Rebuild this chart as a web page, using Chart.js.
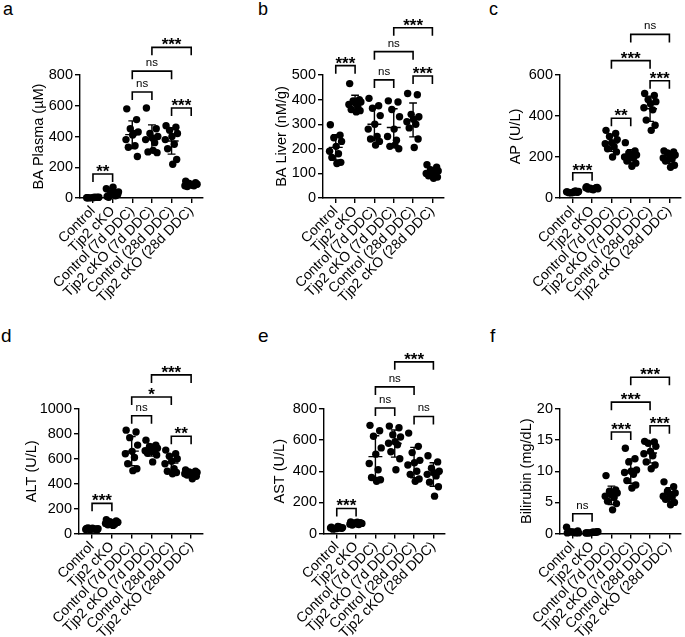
<!DOCTYPE html>
<html>
<head>
<meta charset="utf-8">
<script src="https://cdn.jsdelivr.net/npm/chart.js@4.4.1/dist/chart.umd.min.js"></script>
<style>
  body { margin: 0; background: #fff; width: 685px; height: 637px; position: relative; overflow: hidden;
         font-family: 'Liberation Sans', Arial, sans-serif; color: #000; }
  canvas { position: absolute; }
  .tag { position: absolute; line-height: 1; }
</style>
</head>
<body>
<div class="tag" style="left:3px;top:0px;font-size:18px">a</div>
<div class="tag" style="left:258px;top:0px;font-size:18px">b</div>
<div class="tag" style="left:489px;top:0px;font-size:18px">c</div>
<div class="tag" style="left:1px;top:326px;font-size:19px">d</div>
<div class="tag" style="left:258px;top:326px;font-size:19px">e</div>
<div class="tag" style="left:490px;top:326px;font-size:19px">f</div>

<canvas id="pa" width="228" height="305" style="left:0;top:0"></canvas>
<canvas id="pb" width="228" height="305" style="left:228px;top:0"></canvas>
<canvas id="pc" width="229" height="305" style="left:456px;top:0"></canvas>
<canvas id="pd" width="228" height="337" style="left:0;top:300px"></canvas>
<canvas id="pe" width="228" height="337" style="left:228px;top:300px"></canvas>
<canvas id="pf" width="229" height="337" style="left:456px;top:300px"></canvas>

<script>
// groups on the x axis
const groups = ['Control', 'Tjp2 cKO', 'Control (7d DDC)', 'Tjp2 cKO (7d DDC)', 'Control (28d DDC)', 'Tjp2 cKO (28d DDC)'];

// horizontal scatter of the dots inside a group (in group units)
const jitter = [-0.28, 0.22, -0.1, 0.3, 0.02, -0.32, 0.14, -0.2, 0.26, 0.06];

// one list per group
const baPlasma = [
  [2, 4, 1, 5, 3, 2, 6, 1, 4, 3],
  [10, 20, 30, 40, 70, 60, 15, 5, 25, 35],
  [580, 510, 450, 430, 410, 380, 340, 330, 270, 420],
  [585, 450, 420, 400, 390, 380, 360, 300, 295, 310],
  [470, 460, 440, 420, 400, 380, 350, 320, 250, 220],
  [110, 100, 95, 90, 85, 80, 80, 75, 90, 85]
];
const baLiver = [
  [298, 255, 245, 230, 210, 190, 180, 165, 145, 140],
  [465, 400, 395, 390, 385, 380, 370, 360, 355, 350],
  [405, 375, 365, 335, 300, 280, 250, 240, 230, 215],
  [395, 390, 360, 330, 280, 250, 235, 210, 200, 215],
  [425, 420, 340, 330, 320, 310, 300, 285, 240, 205],
  [135, 125, 115, 110, 105, 100, 95, 90, 85, 80]
];
const apValues = [
  [30, 28, 25, 32, 27, 30, 35, 26, 29, 31],
  [55, 50, 48, 45, 42, 50, 47, 44, 52, 40],
  [330, 315, 300, 285, 270, 265, 250, 240, 225, 200],
  [270, 230, 220, 210, 205, 200, 195, 180, 170, 155],
  [510, 500, 480, 470, 460, 440, 430, 380, 355, 330],
  [230, 225, 220, 210, 200, 195, 190, 180, 160, 150]
];
const altValues = [
  [40, 35, 30, 38, 42, 33, 36, 45, 30, 35],
  [110, 100, 95, 90, 85, 80, 75, 70, 88, 65],
  [830, 815, 770, 710, 660, 640, 610, 560, 520, 505],
  [750, 710, 700, 685, 675, 665, 655, 645, 630, 575],
  [670, 640, 620, 600, 580, 560, 520, 500, 490, 480],
  [510, 500, 495, 490, 485, 480, 475, 470, 460, 440]
];
const astValues = [
  [40, 35, 30, 38, 32, 36, 42, 28, 34, 45],
  [75, 70, 68, 65, 62, 60, 58, 55, 65, 72],
  [695, 660, 625, 550, 510, 450, 410, 360, 345, 335],
  [690, 680, 635, 620, 590, 580, 570, 525, 480, 410],
  [645, 560, 520, 470, 455, 440, 400, 380, 350, 335],
  [500, 460, 420, 400, 390, 380, 370, 330, 300, 240]
];
const bilirubin = [
  [0.1, 0.2, 0.3, 0.1, 0.2, 1.0, 0.1, 0.2, 0.4, 0.2],
  [0.1, 0.2, 0.1, 0.3, 0.2, 0.1, 0.2, 0.1, 0.3, 0.2],
  [9.3, 7.0, 6.8, 6.5, 6.2, 6.0, 5.8, 5.2, 4.8, 3.8],
  [13.7, 12.0, 11.5, 10.2, 10.0, 9.8, 9.5, 8.5, 7.8, 7.3],
  [14.8, 14.7, 14.5, 14.0, 13.2, 12.8, 12.5, 11.5, 11.0, 10.4],
  [8.3, 7.5, 6.8, 6.5, 6.3, 6.0, 5.8, 5.5, 5.0, 4.6]
];

// significance brackets: [from group, to group, height in axis units, label]
const sigA = [[0, 1, 156, '**'], [2, 3, 689, 'ns'], [4, 5, 585, '***'], [2, 4, 825, 'ns'], [3, 5, 980, '***']];
const sigB = [[0, 1, 538, '***'], [2, 3, 480, 'ns'], [4, 5, 496, '***'], [2, 4, 595, 'ns'], [3, 5, 692, '***']];
const sigC = [[0, 1, 123, '***'], [2, 3, 389, '**'], [4, 5, 572, '***'], [2, 4, 670, '***'], [3, 5, 798, 'ns']];
const sigD = [[0, 1, 242, '***'], [2, 3, 946, 'ns'], [4, 5, 781, '**'], [2, 4, 1096, '*'], [3, 5, 1274, '***']];
const sigE = [[0, 1, 161, '***'], [2, 3, 806, 'ns'], [4, 5, 752, 'ns'], [2, 4, 942, 'ns'], [3, 5, 1103, '***']];
const sigF = [[0, 1, 3.17, 'ns'], [2, 3, 16.3, '***'], [4, 5, 17.3, '***'], [2, 4, 21.1, '***'], [3, 5, 25.1, '***']];

const FONT = "'Liberation Sans', Arial, sans-serif";
Chart.defaults.font.family = FONT;
Chart.defaults.color = '#000';

function meanSd(vals) {
  const m = vals.reduce((a, b) => a + b, 0) / vals.length;
  const v = vals.reduce((a, b) => a + (b - m) * (b - m), 0) / (vals.length - 1);
  return [m, Math.sqrt(v)];
}

function drawPanel(id, p) {
  const points = [];
  p.values.forEach((vals, i) => {
    vals.forEach((v, k) => points.push({ x: i + jitter[k], y: v }));
  });

  // mean +/- SD bars and the significance brackets
  const overlay = {
    id: 'overlay',
    afterDatasetsDraw(chart) {
      const { ctx, scales: { x, y } } = chart;
      ctx.save();
      ctx.strokeStyle = '#000';
      ctx.lineWidth = 1.4;
      p.values.forEach((vals, i) => {
        const [m, sd] = meanSd(vals);
        const ym = y.getPixelForValue(m);
        const yt = y.getPixelForValue(m + sd);
        const yb = y.getPixelForValue(Math.max(m - sd, 0));
        ctx.beginPath();
        ctx.moveTo(x.getPixelForValue(i - 0.36), ym);
        ctx.lineTo(x.getPixelForValue(i + 0.36), ym);
        ctx.moveTo(x.getPixelForValue(i), yt);
        ctx.lineTo(x.getPixelForValue(i), yb);
        ctx.moveTo(x.getPixelForValue(i - 0.2), yt);
        ctx.lineTo(x.getPixelForValue(i + 0.2), yt);
        ctx.moveTo(x.getPixelForValue(i - 0.2), yb);
        ctx.lineTo(x.getPixelForValue(i + 0.2), yb);
        ctx.stroke();
      });

      ctx.lineWidth = 1.6;
      ctx.fillStyle = '#000';
      ctx.textAlign = 'center';
      p.sig.forEach(([a, b, h, label]) => {
        const x1 = x.getPixelForValue(a);
        const x2 = x.getPixelForValue(b);
        const yy = y.getPixelForValue(h);
        ctx.beginPath();
        ctx.moveTo(x1, yy + 8);
        ctx.lineTo(x1, yy);
        ctx.lineTo(x2, yy);
        ctx.lineTo(x2, yy + 8);
        ctx.stroke();
        if (label === 'ns') {
          ctx.font = '11.5px ' + FONT;
          ctx.fillText(label, (x1 + x2) / 2, yy - 5);
        } else {
          ctx.font = 'bold 17px ' + FONT;
          ctx.fillText(label, (x1 + x2) / 2, yy + 3);
        }
      });
      ctx.restore();
    }
  };

  const axisLine = { color: '#000', width: 1.4 };
  const tickGrid = { drawOnChartArea: false, drawTicks: true, tickLength: 5, color: '#000', lineWidth: 1.4 };

  new Chart(document.getElementById(id), {
    type: 'scatter',
    data: {
      datasets: [{
        data: points,
        pointRadius: 3.7,
        pointBackgroundColor: '#000',
        pointBorderWidth: 0,
        clip: false
      }]
    },
    options: {
      responsive: false,
      animation: false,
      layout: { padding: { top: p.top, left: 0, right: p.right, bottom: 0 } },
      plugins: { legend: { display: false }, tooltip: { enabled: false } },
      scales: {
        x: {
          type: 'linear',
          min: -0.66,
          max: 5.6,
          afterBuildTicks: (axis) => { axis.ticks = groups.map((g, i) => ({ value: i })); },
          afterFit: (axis) => { axis.height = p.xh; },
          ticks: {
            callback: (v) => groups[v],
            minRotation: 45,
            maxRotation: 45,
            autoSkip: false,
            padding: 0,
            font: { size: 14 }
          },
          grid: tickGrid,
          border: axisLine
        },
        y: {
          min: 0,
          max: p.max,
          afterFit: (axis) => { axis.width = p.yw; },
          ticks: { stepSize: p.step, padding: 2, font: { size: 14.5 }, callback: (v) => String(v) },
          grid: tickGrid,
          border: axisLine,
          title: { display: true, text: p.title, font: { size: 14.5 }, padding: { top: p.tpad, bottom: 0 } }
        }
      }
    },
    plugins: [overlay]
  });
}

drawPanel('pa', { values: baPlasma, sig: sigA, title: 'BA Plasma (µM)', max: 800, step: 200, top: 75, right: 25, xh: 107, yw: 80, tpad: 30 });
drawPanel('pb', { values: baLiver, sig: sigB, title: 'BA Liver (nM/g)', max: 500, step: 100, top: 75, right: 12, xh: 107, yw: 95, tpad: 45 });
drawPanel('pc', { values: apValues, sig: sigC, title: 'AP (U/L)', max: 600, step: 200, top: 75, right: 3, xh: 107, yw: 104, tpad: 51 });
drawPanel('pd', { values: altValues, sig: sigD, title: 'ALT (U/L)', max: 1000, step: 200, top: 109, right: 25, xh: 103.5, yw: 79, tpad: 23 });
drawPanel('pe', { values: astValues, sig: sigE, title: 'AST (U/L)', max: 800, step: 200, top: 109, right: 11, xh: 103.5, yw: 96, tpad: 43 });
drawPanel('pf', { values: bilirubin, sig: sigF, title: 'Bilirubin (mg/dL)', max: 20, step: 5, top: 109, right: 2, xh: 103.5, yw: 104, tpad: 62 });
</script>
</body>
</html>
